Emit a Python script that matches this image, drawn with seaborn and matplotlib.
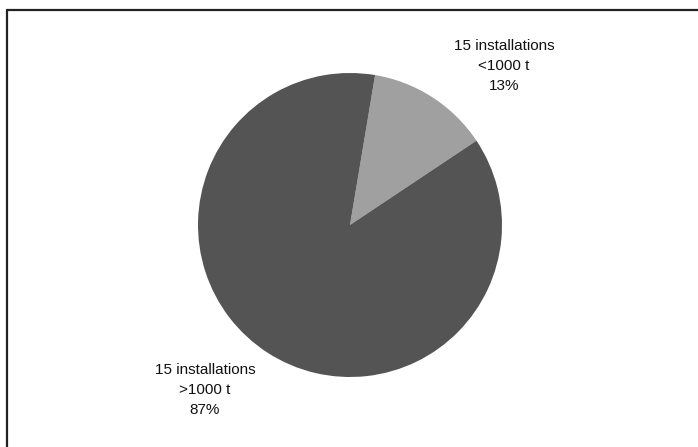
#! /usr/bin/env python3

import matplotlib
matplotlib.use('Agg')
import matplotlib.pyplot as plt
import matplotlib.lines as mlines

import seaborn as sns

# data
categories = ['15 installations\n<1000 t', '15 installations\n>1000 t']
shares = [13, 87]
colours = ['#a0a0a0', '#545454']

if __name__ == '__main__':

    sns.set_style('white')
    plt.rcParams['font.family'] = ['Liberation Sans', 'DejaVu Sans']

    fig = plt.figure(figsize=(6.98, 4.47), dpi=100)
    W, H = 698, 447

    # pie axes: centre (350, 225), radius ~152 px
    cx, cy, r = 350, 225, 152
    ax = fig.add_axes([(cx - r) / W, (H - cy - r) / H, 2 * r / W, 2 * r / H])
    ax.pie(shares, colors=colours, startangle=80.5, counterclock=False,
           radius=1, wedgeprops=dict(linewidth=0))
    ax.set_xlim(-1, 1)
    ax.set_ylim(-1, 1)
    ax.set_aspect('auto')
    ax.axis('off')

    # data labels, placed as in the original
    label_pos = [(504, 66), (205, 390)]
    for cat, val, (px, py) in zip(categories, shares, label_pos):
        fig.text(px / W, 1 - py / H, '%s\n%d%%' % (cat, val),
                 ha='center', va='center', fontsize=11, linespacing=1.5,
                 color='#111111')

    # chart frame (only top and left edges visible in the crop)
    fig.add_artist(mlines.Line2D([7 / W, 1], [1 - 10 / H, 1 - 10 / H],
                                 color='#222222', linewidth=1.6,
                                 transform=fig.transFigure))
    fig.add_artist(mlines.Line2D([7 / W, 7 / W], [0, 1 - 10 / H],
                                 color='#222222', linewidth=1.6,
                                 transform=fig.transFigure))

    fig.savefig('out.png', dpi=100)
